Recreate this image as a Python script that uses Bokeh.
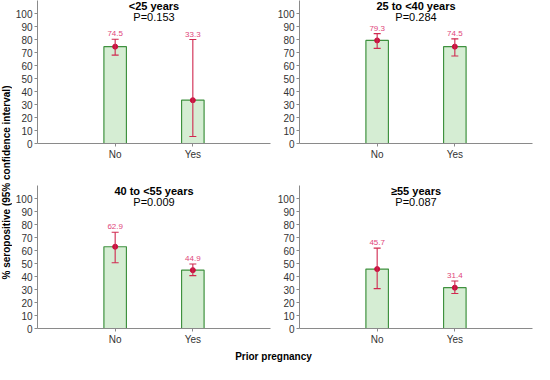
from bokeh.plotting import figure
from bokeh.models import FactorRange, Range1d, ColumnDataSource, Whisker, TeeHead, Label, FixedTicker
from bokeh.layouts import row, column
from bokeh.embed import file_html
from bokeh.resources import INLINE
from bokeh.core.properties import value

categories = ["No", "Yes"]
groups = ["<25 years", "25 to <40 years", "40 to <55 years", "\u226555 years"]
p_values = ["P=0.153", "P=0.284", "P=0.009", "P=0.087"]
pct = [[74.5, 33.3], [79.3, 74.5], [62.9, 44.9], [45.7, 31.4]]
ci_low = [[68.0, 5.4], [73.2, 67.3], [50.6, 40.7], [30.7, 26.9]]
ci_high = [[80.2, 80.0], [84.5, 80.5], [74.0, 49.6], [61.8, 36.5]]
y_ticks = list(range(0, 101, 10))
y_label = "% seropositive (95% confidence interval)"
x_label = "Prior pregnancy"

FONT = "Liberation Sans"
BAR_FILL = "#d5edd3"
BAR_LINE = "#3f913f"
ERR = "#d0284f"
MARK = "#c8103e"
VAL = "#e0457a"
AXIS = "#8a8a8a"
TICK_TXT = "#333333"


def make_panel(i, w, h, mbl, mbr, mbt, mbb):
    p = figure(x_range=FactorRange(*categories, range_padding=0.5),
               y_range=Range1d(0, 110), width=w, height=h,
               output_backend="svg", toolbar_location=None,
               min_border_left=mbl, min_border_right=mbr,
               min_border_top=mbt, min_border_bottom=mbb)
    p.outline_line_color = None
    p.xgrid.grid_line_color = None
    p.ygrid.grid_line_color = None
    p.background_fill_color = "white"
    src = ColumnDataSource(dict(cat=categories, val=pct[i], lo=ci_low[i], hi=ci_high[i],
                                txt=["%.1f" % v for v in pct[i]]))
    p.vbar(x="cat", top="val", bottom=0, width=0.29, source=src,
           fill_color=BAR_FILL, line_color=BAR_LINE, line_width=1.2)
    w_ = Whisker(base="cat", upper="hi", lower="lo", source=src, level="overlay",
                 line_color=ERR, line_width=1.1,
                 upper_head=TeeHead(size=7, line_color=ERR, line_width=1.1),
                 lower_head=TeeHead(size=7, line_color=ERR, line_width=1.1))
    p.add_layout(w_)
    p.scatter(x="cat", y="val", source=src, size=5, color=MARK, level="overlay")
    p.text(x="cat", y="hi", text="txt", source=src, text_align="center",
           text_baseline="bottom", y_offset=-3, text_font=value(FONT),
           text_font_size="8px", text_color=VAL)
    p.add_layout(Label(x=1.0, y=105.6, text=groups[i], text_align="center",
                       text_baseline="middle", text_font=FONT, text_font_size="11px",
                       text_font_style="bold", text_color="black"))
    p.add_layout(Label(x=1.0, y=97.0, text=p_values[i], text_align="center",
                       text_baseline="middle", text_font=FONT, text_font_size="11px",
                       text_color="black"))
    for ax in (p.xaxis[0], p.yaxis[0]):
        ax.axis_line_color = AXIS
        ax.major_tick_line_color = AXIS
        ax.minor_tick_line_color = None
        ax.major_tick_in = 0
        ax.major_tick_out = 3
        ax.major_label_text_font = FONT
        ax.major_label_text_font_size = "10px"
        ax.major_label_text_color = TICK_TXT
        ax.major_label_standoff = 2
    p.yaxis[0].ticker = FixedTicker(ticks=y_ticks)
    return p


def strip(w, h, text, angle):
    s = figure(width=w, height=h, x_range=Range1d(0, 1), y_range=Range1d(0, 1),
               output_backend="svg", toolbar_location=None,
               min_border=0, min_border_left=0, min_border_right=0,
               min_border_top=0, min_border_bottom=0)
    s.axis.visible = False
    s.grid.visible = False
    s.outline_line_color = None
    s.add_layout(Label(x=0.5, y=0.5, text=text, angle=angle, text_align="center",
                       text_baseline="middle", text_font=FONT, text_font_size="10px",
                       text_font_style="bold", text_color="black"))
    return s


p1 = make_panel(0, 262, 162, 20, 4, 0, 16)
p2 = make_panel(1, 260, 162, 21, 2, 0, 16)
p3 = make_panel(2, 262, 185, 20, 4, 23, 16)
p4 = make_panel(3, 260, 185, 21, 2, 23, 16)

left = strip(12, 364, y_label, 1.5707963)
bottom = strip(522, 17, x_label, 0)

layout = row(left, column(row(p1, p2), row(p3, p4), bottom))

open("out.html", "w").write(file_html(layout, INLINE))
